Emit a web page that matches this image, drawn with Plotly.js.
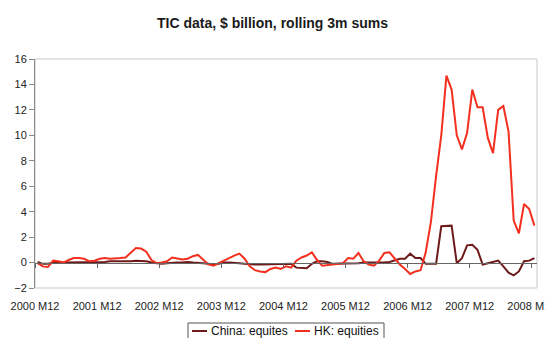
<!DOCTYPE html>
<html>
<head>
<meta charset="utf-8">
<script src="https://cdn.plot.ly/plotly-3.0.1.min.js"></script>
<style>
  html, body { margin: 0; padding: 0; background: #fff; }
  #chart { width: 545px; height: 338px; }
</style>
</head>
<body>
<div id="chart"></div>
<script>
// Monthly periods, 2000 M12 .. 2008 M12
const startYear = 2000;
const startMonth = 12;
const monthCount = 97;
const months = [];
for (let i = 0; i < monthCount; i++) {
  const m = startMonth - 1 + i;
  months.push(`${startYear + Math.floor(m / 12)} M${String((m % 12) + 1).padStart(2, '0')}`);
}

const seriesNames = ['China: equites', 'HK: equities'];

// Rolling 3-month sums, $ billion
const chinaEquities = [
  0.05, -0.1, -0.1, 0.0, 0.05, 0.0, 0.0, 0.05, 0.05, 0.05,
  0.0, 0.0, 0.05, 0.05, 0.1, 0.1, 0.05, 0.05, 0.1, 0.15,
  0.15, 0.1, 0.0, -0.05, -0.1, -0.05, 0.0, 0.0, 0.0, 0.05,
  0.0, 0.0, -0.05, -0.1, -0.15, -0.1, 0.0, 0.0, 0.0, -0.05,
  -0.1, -0.15, -0.15, -0.15, -0.15, -0.1, -0.1, -0.1, -0.1, -0.1,
  -0.4, -0.45, -0.45, -0.1, 0.1, 0.1, 0.05, -0.1, -0.1, -0.1,
  -0.05, -0.05, -0.05, 0.0, 0.0, -0.05, 0.0, 0.0, 0.05, 0.15,
  0.3, 0.3, 0.7, 0.35, 0.35, -0.1, -0.1, -0.1, 2.85, 2.85,
  2.9, -0.05, 0.35, 1.35, 1.4, 1.0, -0.15, -0.05, 0.05, 0.15,
  -0.3, -0.8, -1.0, -0.7, 0.1, 0.15, 0.35
];

const hkEquities = [
  -0.05, -0.3, -0.35, 0.15, 0.1, 0.0, 0.2, 0.35, 0.35, 0.3,
  0.1, 0.15, 0.3, 0.35, 0.3, 0.3, 0.35, 0.4, 0.75, 1.15,
  1.1, 0.85, 0.2, -0.05, 0.0, 0.1, 0.4, 0.3, 0.25, 0.3,
  0.5, 0.6, 0.2, -0.15, -0.25, -0.05, 0.2, 0.35, 0.55, 0.7,
  0.3, -0.3, -0.6, -0.7, -0.75, -0.5, -0.4, -0.5, -0.3, -0.4,
  0.15, 0.4, 0.55, 0.8, 0.2, -0.25, -0.2, -0.1, -0.1, -0.05,
  0.35, 0.3, 0.75, 0.1, -0.15, -0.25, 0.15, 0.75, 0.8, 0.3,
  -0.15, -0.5, -0.9, -0.7, -0.6, 0.8, 3.2, 6.8, 10.0, 14.7,
  13.6, 10.0, 8.9, 10.2, 13.6, 12.2, 12.2, 9.8, 8.6, 12.0,
  12.3, 10.3, 3.3, 2.3, 4.6, 4.2, 2.9
];

const tickLabels = ['2000 M12', '2001 M12', '2002 M12', '2003 M12', '2004 M12',
                    '2005 M12', '2006 M12', '2007 M12', '2008 M12'];
const yTicks = [-2, 0, 2, 4, 6, 8, 10, 12, 14, 16];

const seriesColors = ['#6e1a1a', '#f3301f'];
const fontFamily = 'Liberation Sans, Arial, sans-serif';

// Ticks and labels sit on the category boundary before each labelled month
const boundaryVals = tickLabels.map(l => months.indexOf(l) - 0.5);
const xRange = [-0.5, monthCount - 0.5];
const yRange = [yTicks[0], yTicks[yTicks.length - 1]];
const zeroPos = (0 - yRange[0]) / (yRange[1] - yRange[0]);

// China runs on the axis drawn at y = 0; HK on the overlaid axis that carries the labels
const traces = [
  { x: months, y: chinaEquities, name: seriesNames[0], type: 'scatter', mode: 'lines',
    xaxis: 'x', yaxis: 'y', line: { color: seriesColors[0], width: 2 }, showlegend: false },
  { x: months, y: hkEquities, name: seriesNames[1], type: 'scatter', mode: 'lines',
    xaxis: 'x2', yaxis: 'y', line: { color: seriesColors[1], width: 2 }, showlegend: false }
];

// Plot area: 35..537 px horizontally, 59..288 px vertically
const plotL = 35, plotR = 537, plotT = 59, plotB = 288;
const pw = plotR - plotL, ph = plotB - plotT;
const px = v => (v - plotL) / pw;
const py = v => (plotB - v) / ph;

// Hand-built legend box below the plot
const legendY = 331;
const legendItems = [
  { x0: 192, x1: 207, tx: 209 },
  { x0: 295, x1: 310, tx: 312 }
];

const shapes = [
  { type: 'rect', xref: 'paper', yref: 'paper', x0: 0, x1: 1, y0: 0, y1: 1,
    line: { color: '#c8c8c8', width: 1 }, layer: 'below' },
  { type: 'rect', xref: 'paper', yref: 'paper', x0: px(188), x1: px(384), y0: py(323), y1: py(350),
    line: { color: '#555', width: 1 }, fillcolor: 'rgba(0,0,0,0)' }
];
const annotations = [];
legendItems.forEach((it, i) => {
  shapes.push({ type: 'line', xref: 'paper', yref: 'paper', x0: px(it.x0), x1: px(it.x1),
    y0: py(legendY), y1: py(legendY), line: { color: seriesColors[i], width: 2 } });
  annotations.push({ xref: 'paper', yref: 'paper', x: px(it.tx), y: py(legendY),
    xanchor: 'left', yanchor: 'middle', showarrow: false, text: seriesNames[i],
    font: { family: fontFamily, size: 12, color: '#111' } });
});

const layout = {
  width: 545, height: 338,
  margin: { l: plotL, r: 545 - plotR, t: plotT, b: 338 - plotB, pad: 0 },
  paper_bgcolor: '#fff', plot_bgcolor: '#fff',
  showlegend: false,
  title: {
    text: 'TIC data, $ billion, rolling 3m sums',
    xref: 'container', x: 0.5, xanchor: 'center',
    yref: 'container', y: 1 - 23 / 338, yanchor: 'middle',
    font: { family: fontFamily, size: 14, color: '#1a1a1a', weight: 'bold' }
  },
  xaxis: {
    type: 'category', range: xRange, anchor: 'free', position: zeroPos,
    tickmode: 'array', tickvals: boundaryVals, showticklabels: false,
    ticks: 'outside', ticklen: 4, tickwidth: 1, tickcolor: '#666',
    showline: true, linecolor: '#666', linewidth: 1,
    showgrid: false, zeroline: false, fixedrange: true
  },
  xaxis2: {
    type: 'category', overlaying: 'x', anchor: 'y', side: 'bottom', range: xRange,
    tickmode: 'array', tickvals: boundaryVals, ticktext: tickLabels,
    ticks: 'outside', ticklen: 8, tickcolor: 'rgba(0,0,0,0)',
    showline: false, showgrid: false, zeroline: false,
    tickfont: { family: fontFamily, size: 11, color: '#222' }
  },
  yaxis: {
    range: yRange, tickmode: 'array', tickvals: yTicks,
    ticks: 'outside', ticklen: 5, tickwidth: 1, tickcolor: '#888',
    showline: true, linecolor: '#888', linewidth: 1,
    showgrid: false, zeroline: false,
    tickfont: { family: fontFamily, size: 11, color: '#222' }
  },
  shapes: shapes,
  annotations: annotations
};

Plotly.newPlot('chart', traces, layout, { displayModeBar: false, staticPlot: true });
</script>
</body>
</html>
